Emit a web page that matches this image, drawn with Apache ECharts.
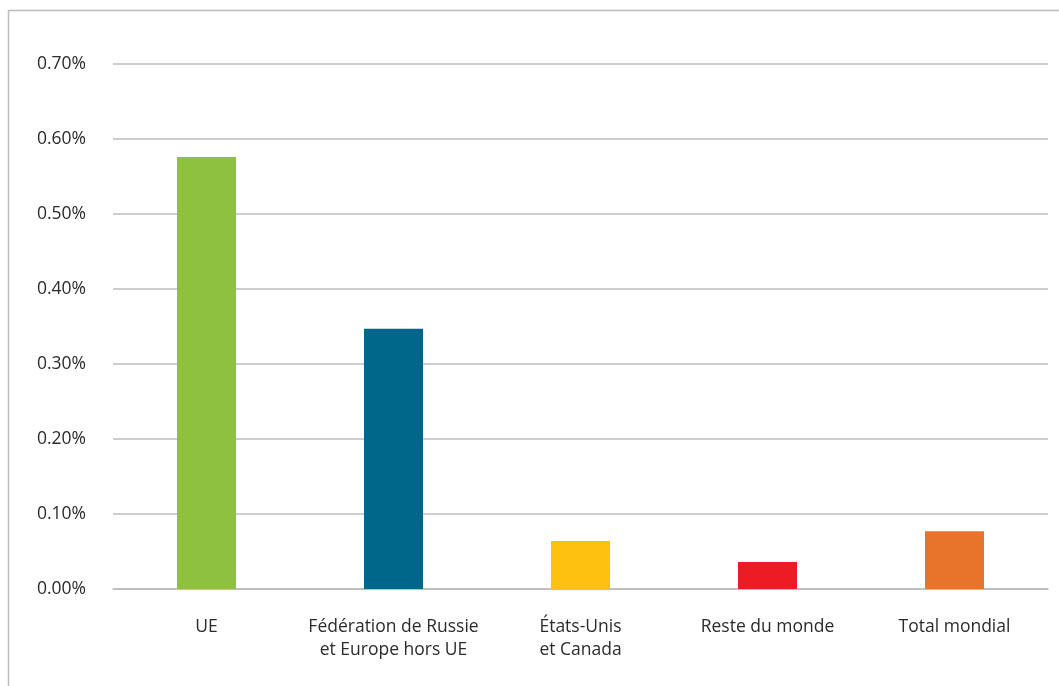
<!DOCTYPE html>
<html>
<head>
<meta charset="utf-8">
<script src="https://cdn.jsdelivr.net/npm/echarts@6/dist/echarts.min.js"></script>
<style>
html,body{margin:0;padding:0;background:#fff;}
#chart{width:1059px;height:686px;}
</style>
</head>
<body>
<div id="chart"></div>
<script>
const categories = ['UE', 'Fédération de Russie\net Europe hors UE', 'États-Unis\net Canada', 'Reste du monde', 'Total mondial'];
const values = [0.576, 0.347, 0.064, 0.036, 0.077];
const barColors = ['#8DC13F', '#00678A', '#FEC10F', '#ED1C24', '#E8732A'];

const chart = echarts.init(document.getElementById('chart'), null, {renderer: 'canvas'});
const font = '"Open Sans", "Noto Sans", sans-serif';
chart.setOption({
  animation: false,
  graphic: [{
    type: 'rect',
    shape: {x: 8.5, y: 10.5, width: 1100, height: 700},
    style: {fill: 'none', stroke: '#bcbcc0', lineWidth: 1.5},
    silent: true
  }],
  grid: {left: 113, right: 11, top: 64, bottom: 97, containLabel: false},
  xAxis: {
    type: 'category',
    data: categories,
    axisLine: {show: true, lineStyle: {color: '#bcbcc0', width: 1.5}},
    axisTick: {show: false},
    axisLabel: {color: '#2b2b2b', fontSize: 17.5, fontFamily: font, margin: 27, lineHeight: 23, interval: 0}
  },
  yAxis: {
    type: 'value',
    min: 0, max: 0.7, interval: 0.1,
    axisLine: {show: false},
    axisTick: {show: false},
    splitLine: {lineStyle: {color: '#bcbcc0', width: 1.5}},
    axisLabel: {color: '#2b2b2b', fontSize: 17.5, fontFamily: font, margin: 27,
      padding: [3, 0, 0, 0],
      formatter: v => v.toFixed(2) + '%'}
  },
  series: [{
    type: 'bar',
    barWidth: 59,
    data: values.map((v, i) => ({value: v, itemStyle: {color: barColors[i]}}))
  }]
});
</script>
</body>
</html>
